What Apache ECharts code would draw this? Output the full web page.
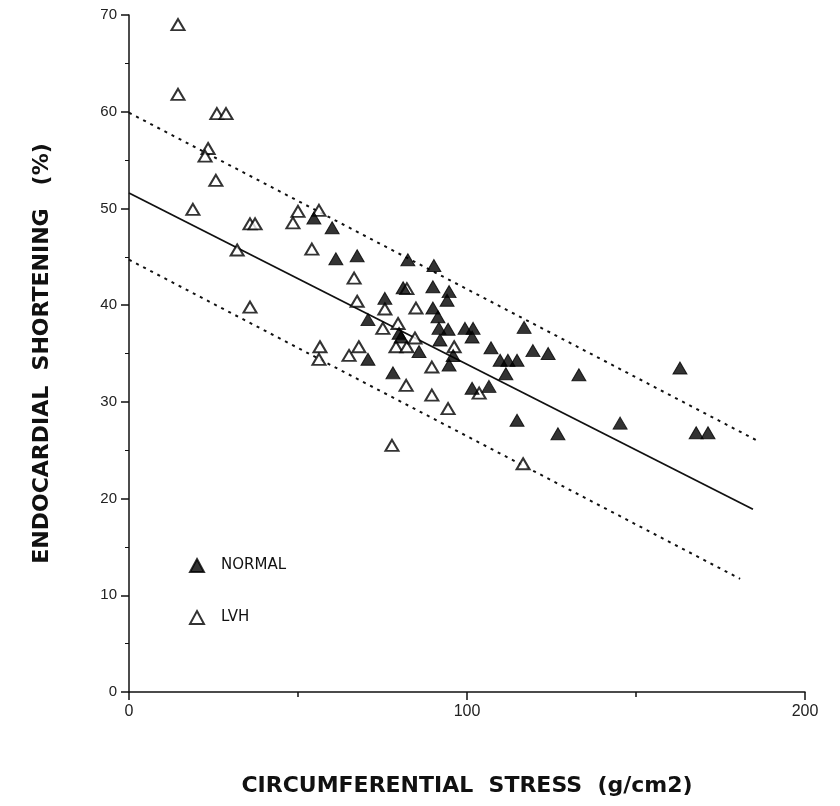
<!DOCTYPE html>
<html>
<head>
<meta charset="utf-8">
<script src="https://cdn.jsdelivr.net/npm/echarts@6/dist/echarts.min.js"></script>
<style>html,body{margin:0;padding:0;background:#fff;}#c{width:840px;height:806px;}</style>
</head>
<body>
<div id="c"></div>
<script>
// ---- data ----
const normalX = [54.7,60.1,61.2,67.5,82.5,90.2,70.7,81.1,89.9,94.7,94.1,75.7,89.9,91.4,91.7,94.4,99.4,101.8,101.5,79.9,80.5,92.0,107.1,70.7,85.8,95.9,109.8,112.1,114.8,111.5,94.7,78.1,101.5,106.5,114.8,116.9,119.5,124.0,133.1,126.9,145.3,163.0,167.8,171.3];
const normalY = [49.0,48.0,44.8,45.1,44.7,44.1,38.5,41.8,41.9,41.4,40.5,40.7,39.7,38.8,37.6,37.5,37.6,37.6,36.7,37.1,36.7,36.4,35.6,34.4,35.2,34.8,34.3,34.3,34.3,32.9,33.8,33.0,31.4,31.6,28.1,37.7,35.3,35.0,32.8,26.7,27.8,33.5,26.8,26.8];
const lvhX = [14.5,14.5,26.0,28.7,23.4,22.5,25.7,18.9,35.8,37.3,32.0,35.8,50.0,48.5,56.2,54.1,66.6,67.5,56.5,56.2,68.0,65.1,75.7,75.1,79.6,82.2,84.9,79.0,82.2,84.6,82.0,77.8,96.2,89.6,89.6,94.4,103.6,116.6];
const lvhY = [69.0,61.8,59.8,59.8,56.2,55.4,52.9,49.9,48.4,48.4,45.7,39.8,49.7,48.5,49.8,45.8,42.8,40.4,35.7,34.4,35.7,34.8,39.6,37.6,38.1,41.7,39.7,35.7,35.7,36.6,31.7,25.5,35.7,33.6,30.7,29.3,30.9,23.6];
const regX = [0, 184.6];
const regY = [51.6, 18.9];
const upperX = [0, 185.8];
const upperY = [59.9, 26.0];
const lowerX = [0, 180.8];
const lowerY = [44.7, 11.7];
const xTickLabels = [0, 100, 200];
const yTickLabels = [0, 10, 20, 30, 40, 50, 60, 70];

const zip = (a, b) => a.map((v, i) => [v, b[i]]);
const FONT = '"Liberation Sans", Arial, sans-serif';
const TFONT = '"DejaVu Sans", "Liberation Sans", sans-serif';

const chart = echarts.init(document.getElementById('c'), null, {renderer: 'canvas'});
chart.setOption({
  backgroundColor: '#fff',
  animation: false,
  grid: {left: 129, right: 35, top: 15, bottom: 114},
  xAxis: {
    type: 'value', min: 0, max: 200, interval: 100,
    name: 'CIRCUMFERENTIAL  STRESS  (g/cm2)', nameLocation: 'middle', nameGap: 83,
    nameTextStyle: {fontFamily: TFONT, fontWeight: 'bold', fontSize: 22, color: '#111'},
    axisLine: {lineStyle: {color: '#111', width: 1.5}},
    axisTick: {show: true, length: 8, lineStyle: {color: '#111', width: 1.5}},
    minorTick: {show: true, splitNumber: 2, length: 5, lineStyle: {color: '#111', width: 1.5}},
    axisLabel: {fontFamily: FONT, fontSize: 16, color: '#222', margin: 12,
      formatter: v => xTickLabels.includes(v) ? String(v) : ''},
    splitLine: {show: false}
  },
  yAxis: {
    type: 'value', min: 0, max: 70, interval: 10,
    name: 'ENDOCARDIAL  SHORTENING   (%)', nameLocation: 'middle', nameGap: 76,
    nameTextStyle: {fontFamily: TFONT, fontWeight: 'bold', fontSize: 22, color: '#111'},
    axisLine: {show: true, lineStyle: {color: '#111', width: 1.5}},
    axisTick: {show: true, length: 8, lineStyle: {color: '#111', width: 1.5}},
    minorTick: {show: true, splitNumber: 2, length: 4, lineStyle: {color: '#111', width: 1}},
    axisLabel: {fontFamily: FONT, fontSize: 15, color: '#222', margin: 12,
      formatter: v => yTickLabels.includes(v) ? String(v) : ''},
    splitLine: {show: false}
  },
  legend: {
    orient: 'vertical', left: 184, top: 553, itemGap: 37, itemWidth: 14, itemHeight: 13,
    textStyle: {fontFamily: TFONT, fontSize: 15, color: '#111', padding: [0, 0, 0, 12]},
    data: ['NORMAL', 'LVH']
  },
  series: [
    {name: 'upper', type: 'line', data: zip(upperX, upperY), symbol: 'none', silent: true,
      lineStyle: {color: '#111', width: 2, type: [3, 5]}, z: 1},
    {name: 'lower', type: 'line', data: zip(lowerX, lowerY), symbol: 'none', silent: true,
      lineStyle: {color: '#111', width: 2, type: [3, 5]}, z: 1},
    {name: 'reg', type: 'line', data: zip(regX, regY), symbol: 'none', silent: true,
      lineStyle: {color: '#111', width: 1.8}, z: 1},
    {name: 'NORMAL', type: 'scatter', data: zip(normalX, normalY), symbol: 'triangle', symbolSize: [14, 12],
      itemStyle: {color: '#000', borderColor: '#000', borderWidth: 1}, z: 3},
    {name: 'LVH', type: 'scatter', data: zip(lvhX, lvhY), symbol: 'triangle', symbolSize: [13, 11],
      itemStyle: {color: '#fff', borderColor: '#000', borderWidth: 2}, z: 2}
  ]
});
</script>
</body>
</html>
